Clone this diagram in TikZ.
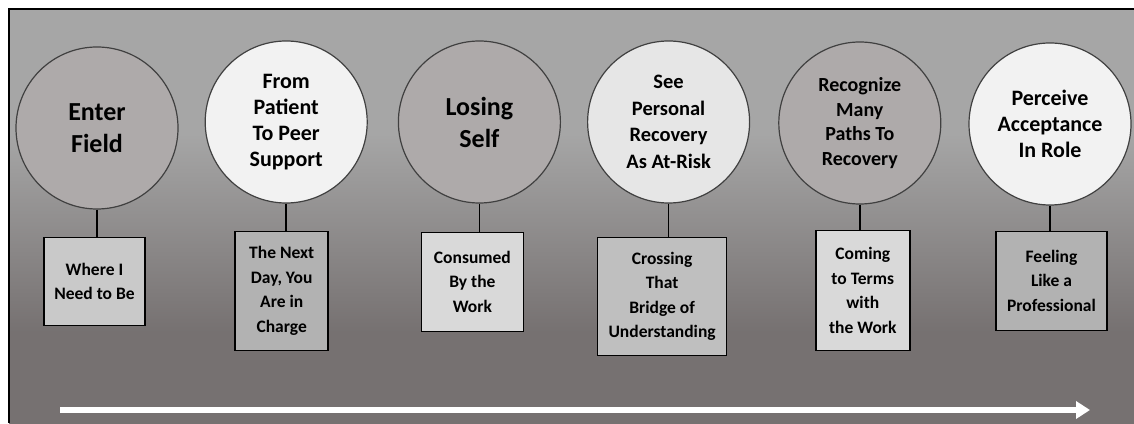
\documentclass[tikz,border=0pt]{standalone}
\usepackage{fontspec}
\setmainfont{Carlito}
\usetikzlibrary{positioning,arrows.meta}

\definecolor{bgtop}{HTML}{A6A6A6}
\definecolor{bgbot}{HTML}{767171}
\definecolor{taupe}{HTML}{AEAAAA}
\definecolor{pale}{HTML}{F2F2F2}
\definecolor{palealt}{HTML}{E6E6E6}
\definecolor{notelight}{HTML}{D9D9D9}
\definecolor{notemid}{HTML}{C9C9C9}
\definecolor{notedark}{HTML}{BFBFBF}
\definecolor{notedeep}{HTML}{B2B2B2}

% panel gradient, dark at the bottom
\pgfdeclareverticalshading{panelshade}{100bp}{color(0bp)=(bgbot); color(36bp)=(bgbot); color(60bp)=(bgtop); color(100bp)=(bgtop)}

\begin{document}
\begin{tikzpicture}[
  x=1pt, y=1pt,
  stage/.style={circle,draw=black!75,line width=1.2pt,minimum size=162pt,inner sep=0pt,align=center},
  note/.style={draw,line width=1.5pt,align=center,inner sep=2pt,font=\fontsize{17.5}{24.5}\selectfont\bfseries},
  link/.style={line width=1.5pt},
  flow/.style={draw=white,line width=5.5pt,-{Triangle[length=14pt,width=17pt]}}
]
\useasboundingbox (0,0) rectangle (1134,423);
\shade[shading=panelshade] (9,0) rectangle (1134,414);
\draw[line width=2pt] (9,0) -- (9,414) -- (1134,414);

% stages
\node[stage,fill=taupe,font=\fontsize{26}{32}\selectfont\bfseries] (c1) at (97,295) {Enter\\Field};
\node[stage,fill=pale,font=\fontsize{22}{26}\selectfont\bfseries,right=26pt of c1,yshift=6pt] (c2) {From\\Patient\\To Peer\\Support};
\node[stage,fill=taupe,font=\fontsize{26}{32}\selectfont\bfseries,right=30pt of c2] (c3) {Losing\\Self};
\node[stage,fill=palealt,font=\fontsize{20.5}{26.5}\selectfont\bfseries,right=26pt of c3] (c4) {See\\Personal\\Recovery\\As At-Risk};
\node[stage,fill=taupe,font=\fontsize{20}{24.5}\selectfont\bfseries,right=28pt of c4,yshift=-1pt] (c5) {Recognize\\Many\\Paths To\\Recovery};
\node[stage,fill=pale,font=\fontsize{22}{26}\selectfont\bfseries,right=27pt of c5,yshift=-1pt] (c6) {Perceive\\Acceptance\\In Role};

% notes under each stage
\node[note,fill=notemid,minimum width=101pt,minimum height=88pt,below=27pt of c1,xshift=-2.5pt] (n1) {Where I\\Need to Be};
\node[note,fill=notedeep,minimum width=93pt,minimum height=119pt,below=27pt of c2,xshift=-4.5pt] (n2) {The Next\\Day, You\\Are in\\Charge};
\node[note,fill=notelight,minimum width=102pt,minimum height=99pt,below=28pt of c3,xshift=-7pt] (n3) {Consumed\\By the\\Work};
\node[note,fill=notedark,minimum width=129pt,minimum height=118pt,below=33pt of c4,xshift=-6.5pt] (n4) {Crossing\\That\\Bridge of\\Understanding};
\node[note,fill=notelight,minimum width=94pt,minimum height=120pt,below=25pt of c5,xshift=3pt] (n5) {Coming\\to Terms\\with\\the Work};
\node[note,fill=notedeep,minimum width=111pt,minimum height=99pt,below=25pt of c6,xshift=1.5pt] (n6) {Feeling\\Like a\\Professional};

\draw[link] (c1.south) -- (c1.south |- n1.north);
\draw[link] (c2.south) -- (c2.south |- n2.north);
\draw[link] (c3.south) -- (c3.south |- n3.north);
\draw[link] (c4.south) -- (c4.south |- n4.north);
\draw[link] (c5.south) -- (c5.south |- n5.north);
\draw[link] (c6.south) -- (c6.south |- n6.north);

% time runs left to right
\coordinate (t0) at (60,13);
\coordinate (t1) at (1090,13);
\draw[flow] (t0) -- (t1);
\end{tikzpicture}
\end{document}
